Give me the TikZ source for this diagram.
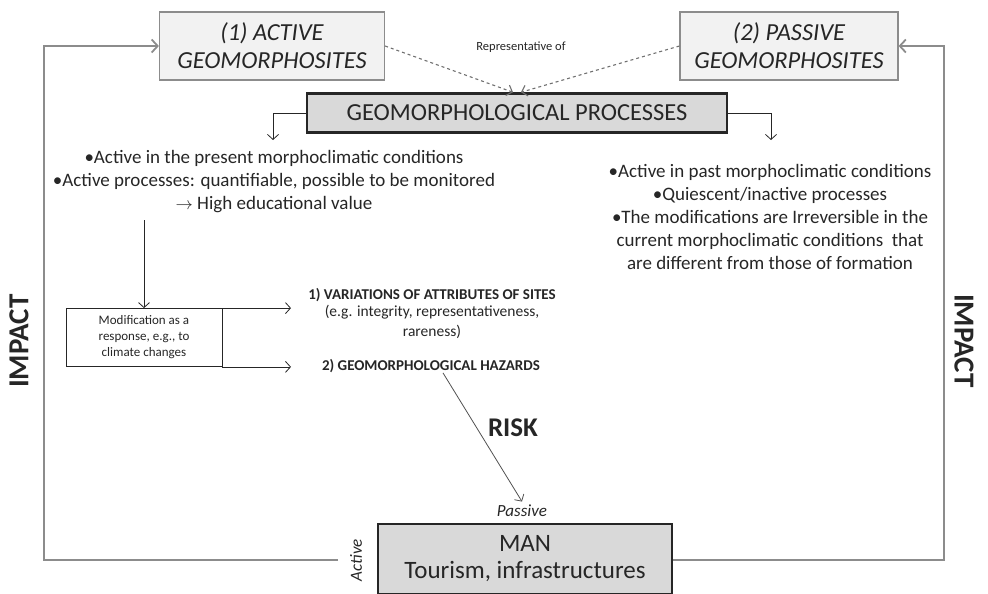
\documentclass[tikz,border=0pt]{standalone}
\usepackage{fontspec}
\setmainfont{Carlito}
\usepackage{xcolor}
\usepackage{tikz}
\usetikzlibrary{calc,arrows.meta}
\definecolor{boxfill}{HTML}{F2F2F2}
\definecolor{procfill}{HTML}{D9D9D9}
\definecolor{loopgray}{HTML}{8C8C8C}
\definecolor{ink}{HTML}{262626}
\tikzset{site box/.style={draw=loopgray,fill=boxfill,line width=1.2pt,align=center,font=\fontsize{24.5}{28}\selectfont\itshape,text=ink},
	proc box/.style={draw=ink,fill=procfill,line width=2.5pt,font=\fontsize{24.5}{27}\selectfont,text=ink},
	body text/.style={align=center,font=\fontsize{19}{23}\selectfont,text=ink,inner sep=0pt},
	small label/.style={font=\fontsize{12.5}{15}\selectfont,text=ink},
	arr/.style={-{Straight Barb[length=5pt,width=11pt]},draw=ink,line width=0.8pt},
	loop line/.style={-{Straight Barb[length=6pt,width=13pt]},draw=loopgray,line width=1.8pt}}

\begin{document}
\begin{tikzpicture}[x=1pt,y=-1pt]
			\useasboundingbox (0,0) rectangle (988,594);
			\node[site box,minimum width=225pt,minimum height=68pt] (active) at (272,46) {(1) ACTIVE\\GEOMORPHOSITES};
			\node[site box,minimum width=218pt,minimum height=68pt] (passive) at (789,46) {(2) PASSIVE\\GEOMORPHOSITES};
			\node[proc box,minimum width=420pt,minimum height=39pt] (proc) at (517,113) {GEOMORPHOLOGICAL PROCESSES};
			\node[small label] (repr) at (521,47) {Representative of};

			\draw[arr,dashed,draw=loopgray!80!black,line width=1.1pt] (active.east) -- ([xshift=-4pt]proc.north);
			\draw[arr,dashed,draw=loopgray!80!black,line width=1.1pt] (passive.west) -- ([xshift=4pt]proc.north);

			% processes split in two branches
			\coordinate (leftdown) at (273,140);
			\coordinate (rightdown) at (771,140);
			\draw[arr] (proc.west) -| (leftdown);
			\draw[arr] (proc.east) -| (rightdown);

			\node[body text] (acttext) at (274,182) {%
				•Active in the present morphoclimatic conditions\\
				•Active processes: quantifiable, possible to be monitored\\
				$\rightarrow$ High educational value};
			\node[body text] (pastext) at (770,217) {%
				•Active in past morphoclimatic conditions\\
				•Quiescent/inactive processes\\
				•The modifications are Irreversible in the\\
				current morphoclimatic conditions\ \ that\\
				are different from those of formation};

			\node[draw=ink,line width=0.8pt,minimum width=156pt,minimum height=58pt,align=center,
				font=\fontsize{13}{16}\selectfont,text=ink] (mod) at (144,337.5)
				{Modification as a\\response, e.g., to\\climate changes};
			\coordinate (actdown) at (144,220);
			\draw[arr] (actdown) -- (mod.north);

			\node[body text,font=\fontsize{15}{18}\selectfont\bfseries] (var) at (432,295) {1) VARIATIONS OF ATTRIBUTES OF SITES};
			\node[body text,font=\fontsize{15.5}{20}\selectfont] (eg) at (432,322) {(e.g. integrity, representativeness,\\rareness)};
			\node[body text,font=\fontsize{15}{18}\selectfont\bfseries] (haz) at (431,366) {2) GEOMORPHOLOGICAL HAZARDS};
			\coordinate (toVar) at (291,0);
			\draw[arr] (mod.north east) -- (toVar |- mod.north east);
			\draw[arr] (mod.south east) -- (toVar |- mod.south east);

			\node[proc box,line width=2pt,minimum width=294pt,minimum height=70pt,align=center,
				font=\fontsize{25}{27}\selectfont] (man) at (525,559) {MAN\\Tourism, infrastructures};
			\node[small label,font=\fontsize{17}{19}\selectfont\itshape] (pas) at (522,511) {Passive};
			\node[small label,font=\fontsize{17}{19}\selectfont\itshape,rotate=90] (act) at (356,560) {Active};

			\draw[arr,draw=ink!80] ([xshift=12pt]haz.south) -- (pas.north);
			\node[font=\fontsize{27}{30}\selectfont\bfseries,text=ink] (risk) at (513,428) {RISK};

			% feedback of man on the sites
			\coordinate (loopL) at (338,560);
			\coordinate (cornerL) at (44,560);
			\coordinate (cornerR) at (944,560);
			\draw[loop line] (loopL) -- (cornerL) |- (active.west);
			\draw[loop line] (man.east |- cornerR) -- (cornerR) |- (passive.east);
			\node[font=\fontsize{29}{32}\selectfont\bfseries,text=ink,rotate=90] (impL) at (19,341) {IMPACT};
			\node[font=\fontsize{29}{32}\selectfont\bfseries,text=ink,rotate=-90] (impR) at (964,341) {IMPACT};
		\end{tikzpicture}
\end{document}
